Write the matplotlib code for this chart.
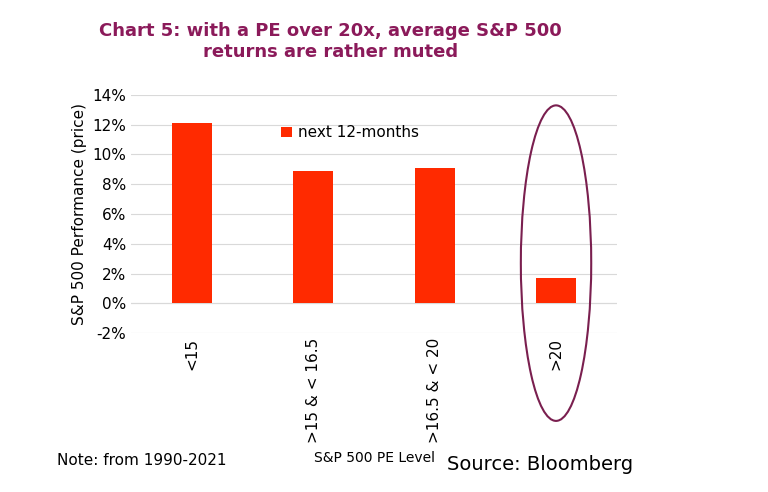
import matplotlib.pyplot as plt
from matplotlib.patches import Ellipse

categories = ["<15", ">15 & < 16.5", ">16.5 & < 20", ">20"]
returns = [12.1, 8.9, 9.1, 1.7]
yticks = [-2, 0, 2, 4, 6, 8, 10, 12, 14]

fig = plt.figure(figsize=(7.68, 4.92), dpi=100)
ax = fig.add_axes([0.171, 0.323, 0.632, 0.484])

x = range(len(categories))
ax.bar(x, returns, width=0.33, color="#ff2a00", label="next 12-months", zorder=3)
ax.set_xlim(-0.5, 3.5)
ax.set_ylim(-2, 14)
ax.set_yticks(yticks)
ax.set_yticklabels([f"{v}%" for v in yticks], fontsize=11)
ax.set_xticks(list(x))
ax.set_xticklabels(categories, rotation=90, fontsize=11, va="top")
ax.tick_params(length=0)
ax.grid(axis="y", color="#d9d9d9", lw=0.8, zorder=0)
ax.axhline(0, color="#d9d9d9", lw=0.8, zorder=1)
for s in ax.spines.values():
    s.set_visible(False)
ax.set_ylabel("S&P 500 Performance (price)", fontsize=11)
ax.legend(loc="upper center", bbox_to_anchor=(0.45, 0.93), frameon=False,
          fontsize=11, handlelength=0.7, handleheight=0.7, handletextpad=0.4)

ax.add_patch(Ellipse((3, 2.7), 0.58, 21.2, fill=False, edgecolor="#7a1f4f",
                     lw=1.5, clip_on=False, zorder=4))

fig.text(0.43, 0.955, "Chart 5: with a PE over 20x, average S&P 500\nreturns are rather muted",
         ha="center", va="top", fontsize=13, fontweight="bold", color="#8b1a5a")
fig.text(0.074, 0.055, "Note: from 1990-2021", fontsize=11)
fig.text(0.488, 0.06, "S&P 500 PE Level", fontsize=10, ha="center")
fig.text(0.582, 0.045, "Source: Bloomberg", fontsize=14)

fig.savefig("out.png", dpi=100)
